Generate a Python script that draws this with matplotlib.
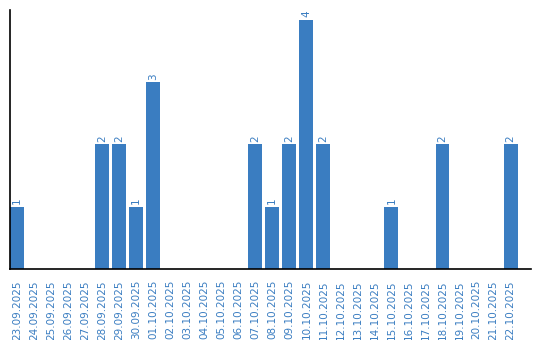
import matplotlib
matplotlib.use("Agg")
import matplotlib.pyplot as plt
import numpy as np

DATES = ["23.09.2025", "24.09.2025", "25.09.2025", "26.09.2025", "27.09.2025",
         "28.09.2025", "29.09.2025", "30.09.2025", "01.10.2025", "02.10.2025",
         "03.10.2025", "04.10.2025", "05.10.2025", "06.10.2025", "07.10.2025",
         "08.10.2025", "09.10.2025", "10.10.2025", "11.10.2025", "12.10.2025",
         "13.10.2025", "14.10.2025", "15.10.2025", "16.10.2025", "17.10.2025",
         "18.10.2025", "19.10.2025", "20.10.2025", "21.10.2025", "22.10.2025"]
COUNTS = [1, 0, 0, 0, 0, 2, 2, 1, 3, 0,
          0, 0, 0, 0, 2, 1, 2, 4, 2, 0,
          0, 0, 1, 0, 0, 2, 0, 0, 0, 2]

BLUE = "#3a7dc1"

fig = plt.figure(figsize=(5.4, 3.4), dpi=100)
ax = fig.add_axes([10 / 540, 71 / 340, 521 / 540, 259 / 340])

x = np.arange(len(DATES))
bars = ax.bar(x, COUNTS, width=0.82, color=BLUE)

# value labels above non-empty bars
for xi, v in zip(x, COUNTS):
    if v > 0:
        ax.text(xi, v + 0.04, str(v), rotation=90, ha="center", va="bottom",
                color=BLUE, fontsize=7.5)

ax.set_xlim(-0.41, 30.2)
ax.set_ylim(0, 4.16)
ax.set_xticks(x)
ax.set_xticklabels(DATES, rotation=90, fontsize=7.5, color=BLUE)
ax.tick_params(axis="x", length=0, pad=8)
ax.set_yticks([])
ax.spines["top"].set_visible(False)
ax.spines["right"].set_visible(False)
ax.spines["left"].set_linewidth(1.2)
ax.spines["bottom"].set_linewidth(1.2)

fig.savefig("out.png", dpi=100)
